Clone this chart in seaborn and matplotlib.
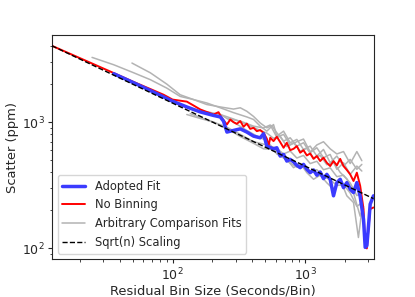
import numpy as np
import pandas as pd
import matplotlib
matplotlib.use("Agg")
import matplotlib.pyplot as plt
import seaborn as sns

# --- data (bin size in s, scatter in ppm) ---
adopted_bin = [36, 51, 68, 100, 128, 162, 204, 229, 242, 257, 288, 324, 363, 408, 458,
               485, 514, 577, 611, 648, 687, 727, 771, 817, 865, 917, 971, 1029, 1091,
               1156, 1224, 1297, 1374, 1456, 1543, 1635, 1733, 1836, 1945, 2061, 2184,
               2314, 2452, 2598, 2753, 2834, 2917, 3002, 3090, 3274]
adopted_scatter = [2420, 2050, 1780, 1465, 1320, 1205, 1130, 1100, 1020, 835, 860, 885,
                   835, 775, 752, 810, 646, 615, 627, 539, 555, 492, 507, 485, 455, 436,
                   463, 423, 398, 418, 380, 403, 357, 386, 353, 261, 332, 353, 303, 332,
                   294, 277, 332, 258, 170, 102, 105, 151, 224, 261]

nobin_bin = [12.3, 36, 51, 68, 85.5, 100, 114, 128, 144, 162, 181, 204, 222, 235, 257,
             272, 288, 305, 324, 343, 363, 385, 408, 432, 458, 485, 514, 529, 545, 577,
             611, 648, 687, 727, 771, 817, 865, 917, 971, 1029, 1091, 1156, 1224, 1297,
             1374, 1456, 1543, 1635, 1733, 1836, 1945, 2061, 2184, 2314, 2452, 2598,
             2753, 2834, 2917, 3090, 3274]
nobin_scatter = [4030, 2450, 2080, 1830, 1650, 1510, 1480, 1455, 1355, 1260, 1205, 1150,
                 1200, 1080, 958, 1050, 1000, 970, 1020, 920, 975, 885, 902, 849, 865,
                 824, 739, 646, 752, 708, 766, 695, 627, 687, 600, 615, 646, 573, 600,
                 545, 565, 512, 539, 492, 523, 477, 449, 492, 455, 512, 449, 418, 386,
                 342, 398, 313, 205, 102, 100, 205, 211]

comp_bins = [
    [24.7, 36, 51, 68, 90.6, 114, 144, 181, 229, 288, 363, 408, 458, 514, 577, 611, 687,
     771, 865, 971, 1091, 1224, 1374, 1543, 1733, 1945, 2184, 2452, 2674],
    [49.4, 68, 90.6, 114, 144, 181, 229, 288, 324, 363, 408, 458, 514, 560, 611, 687,
     771, 865, 971, 1091, 1224, 1374, 1543, 1733, 1945, 2184, 2452, 2674],
    [136, 162, 204, 257, 324, 408, 485, 577, 648, 727, 817, 917, 1029, 1156, 1297, 1456,
     1635, 1836, 2061, 2314, 2520, 2674],
    [128, 162, 204, 257, 324, 408, 514, 611, 687, 771, 865, 971, 1091, 1224, 1374, 1543,
     1733, 1945, 2184, 2452, 2674],
    [181, 229, 288, 363, 458, 514, 577, 648, 727, 817, 917, 1029, 1156, 1297, 1456, 1635,
     1836, 2061, 2314, 2598, 2753],
    [216, 288, 363, 458, 514, 611, 687, 771, 865, 971, 1091, 1224, 1374, 1543, 1733,
     1945, 2184, 2452, 2674],
    [257, 324, 408, 485, 545, 611, 687, 771, 865, 971, 1091, 1224, 1374, 1543, 1733,
     1945, 2184, 2452, 2674],
]
comp_scatter = [
    [3260, 2850, 2460, 2170, 1860, 1600, 1510, 1420, 1300, 1190, 1100, 1050, 930, 849,
     958, 775, 849, 687, 730, 608, 646, 539, 608, 477, 539, 449, 507, 423, 463],
    [2940, 2460, 2000, 1650, 1510, 1380, 1320, 1270, 1300, 1220, 1110, 985, 902, 940,
     824, 708, 752, 646, 687, 573, 627, 523, 555, 423, 477, 386, 449, 410],
    [1170, 1090, 1000, 890, 770, 680, 615, 608, 580, 507, 436, 471, 398, 353, 380, 331,
     294, 352, 261, 231, 122, 200],
    [1150, 1070, 1000, 912, 800, 700, 660, 620, 560, 590, 520, 545, 470, 490, 420, 435,
     370, 380, 330, 262, 275],
    [1210, 1150, 1060, 960, 860, 820, 745, 775, 640, 687, 590, 620, 520, 545, 460, 480,
     400, 355, 275, 180, 215],
    [1190, 1000, 860, 750, 720, 560, 520, 475, 440, 455, 410, 420, 372, 350, 315, 320,
     275, 215, 230],
    [1070, 1020, 930, 900, 950, 760, 800, 660, 700, 735, 580, 660, 700, 615, 560, 585,
     470, 585, 495],
]

sqrt_bin = [12.3, 3274]
sqrt_scatter = [4030, 248]

sns.set_style("ticks")
fig, ax = plt.subplots(figsize=(4.15, 2.97), dpi=100)
fig.subplots_adjust(left=0.125, right=0.9, bottom=0.127, top=0.882)

for xs, ys in zip(comp_bins, comp_scatter):
    df = pd.DataFrame({"bin": xs, "scatter": ys})
    sns.lineplot(data=df, x="bin", y="scatter", sort=False, estimator=None, ax=ax,
                 color="#b3b3b3", lw=1.1, zorder=1)
gray_handle = ax.lines[-1]

df_adopted = pd.DataFrame({"bin": adopted_bin, "scatter": adopted_scatter})
sns.lineplot(data=df_adopted, x="bin", y="scatter", sort=False, estimator=None, ax=ax,
             color="#3b3bff", lw=2.5, zorder=3)
blue_handle = ax.lines[-1]

df_nobin = pd.DataFrame({"bin": nobin_bin, "scatter": nobin_scatter})
sns.lineplot(data=df_nobin, x="bin", y="scatter", sort=False, estimator=None, ax=ax,
             color="red", lw=1.4, zorder=2)
red_handle = ax.lines[-1]

df_sqrt = pd.DataFrame({"bin": sqrt_bin, "scatter": sqrt_scatter})
sns.lineplot(data=df_sqrt, x="bin", y="scatter", sort=False, estimator=None, ax=ax,
             color="black", lw=1.0, linestyle="--", zorder=4)
sqrt_handle = ax.lines[-1]

ax.set_xscale("log")
ax.set_yscale("log")
ax.set_xlim(12.3, 3274)
ax.set_ylim(82, 4900)
ax.set_xlabel("Residual Bin Size (Seconds/Bin)", fontsize=9.4, labelpad=1)
ax.set_ylabel("Scatter (ppm)", fontsize=9.4, labelpad=2)
ax.tick_params(axis="both", which="major", labelsize=9, length=3, pad=2)
ax.tick_params(axis="both", which="minor", length=1.8)

ax.legend([blue_handle, red_handle, gray_handle, sqrt_handle],
          ["Adopted Fit", "No Binning", "Arbitrary Comparison Fits", "Sqrt(n) Scaling"],
          loc="lower left", fontsize=8.3)

fig.savefig("out.png", dpi=100)
